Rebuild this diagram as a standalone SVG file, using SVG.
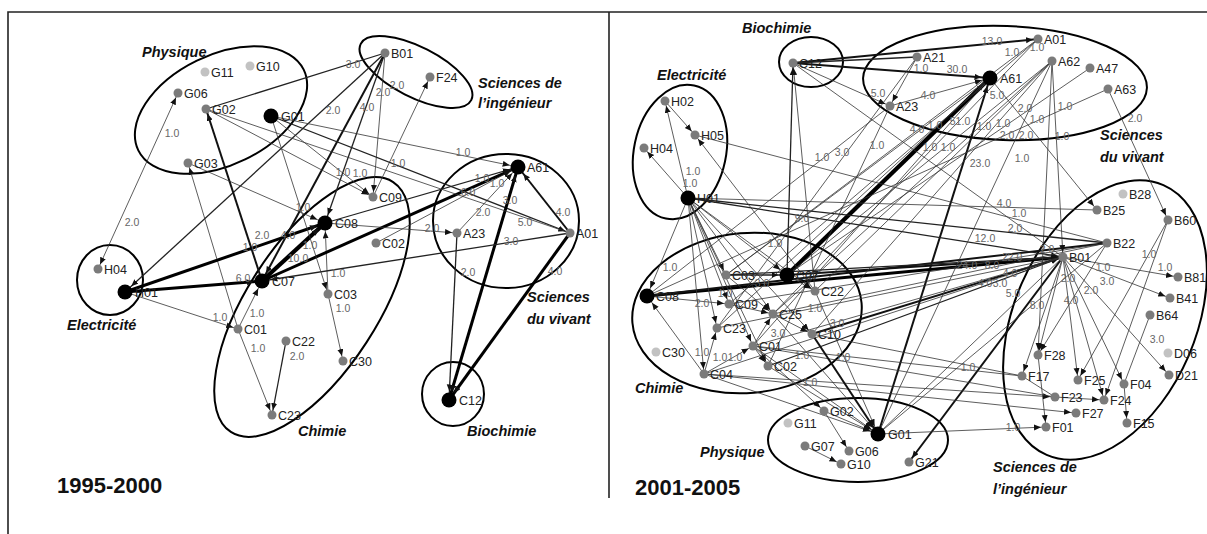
<svg xmlns="http://www.w3.org/2000/svg" width="1207" height="534" viewBox="0 0 1207 534">
<style>
.bg{fill:#fff}
.fr{stroke:#222;stroke-width:1.6;fill:none}
.cl{stroke:#000;stroke-width:2;fill:none}
.e{stroke:#333;stroke-width:0.8;fill:none}
.e2{stroke:#222;stroke-width:1.3}
.e3{stroke:#111;stroke-width:2}
.e4{stroke:#000;stroke-width:3}
.e5{stroke:#000;stroke-width:4.2}
.a{marker-end:url(#m)}
.ab{marker-end:url(#mb)}
.sa{marker-start:url(#m)}
.sab{marker-start:url(#mb)}
.d{fill:#7b7b7b}
.lt{fill:#c2c2c2}
.bk{fill:#000}
.n text{font-family:"Liberation Sans",Arial,sans-serif;font-size:12.5px;fill:#222}
.w{font-family:"Liberation Sans",Arial,sans-serif;font-size:10.5px;fill:#666;text-anchor:middle}
.g{font-family:"Liberation Sans",Arial,sans-serif;font-size:14.5px;font-weight:bold;font-style:italic;fill:#111}
.yr{font-family:"Liberation Sans",Arial,sans-serif;font-size:22px;font-weight:bold;fill:#111}
</style>
<defs>
<marker id="m" markerUnits="userSpaceOnUse" markerWidth="20" markerHeight="10" refX="12" refY="3" orient="auto-start-reverse"><path d="M0,0 L7,3 L0,6 z" fill="#111"/></marker>
<marker id="mb" markerUnits="userSpaceOnUse" markerWidth="24" markerHeight="10" refX="15.5" refY="3" orient="auto-start-reverse"><path d="M0,0 L7,3 L0,6 z" fill="#111"/></marker>
</defs>
<rect class="bg" x="0" y="0" width="1207" height="534"/>
<g id="frame">
<path class="fr" d="M8,534 V12 H1207"/>
<path class="fr" d="M609,12 V498"/>
</g>

<g id="clusters">
<ellipse class="cl" cx="221" cy="110" rx="92" ry="55" transform="rotate(-26 221 110)"/>
<ellipse class="cl" cx="416" cy="72" rx="62" ry="25" transform="rotate(27 416 72)"/>
<ellipse class="cl" cx="110" cy="280" rx="33" ry="35"/>
<ellipse class="cl" cx="312" cy="307" rx="149" ry="65" transform="rotate(-57 312 307)"/>
<ellipse class="cl" cx="506" cy="221" rx="73" ry="67"/>
<ellipse class="cl" cx="453" cy="394" rx="31" ry="32"/>
<ellipse class="cl" cx="811" cy="62" rx="32" ry="25"/>
<ellipse class="cl" cx="680" cy="152" rx="46" ry="68" transform="rotate(12 680 152)"/>
<ellipse class="cl" cx="1005" cy="83" rx="142" ry="57" transform="rotate(2 1005 83)"/>
<ellipse class="cl" cx="747" cy="313" rx="115" ry="80" transform="rotate(-5 747 313)"/>
<ellipse class="cl" cx="1105" cy="320" rx="147" ry="91" transform="rotate(-66.6 1105 320)"/>
<ellipse class="cl" cx="858" cy="440" rx="90" ry="42"/>
</g>

<g id="group-labels">
<text class="g" x="142" y="57">Physique</text>
<text class="g" x="478" y="88">Sciences  de</text>
<text class="g" x="478" y="108">l’ingénieur</text>
<text class="g" x="67" y="330">Electricité</text>
<text class="g" x="298" y="436">Chimie</text>
<text class="g" x="527" y="302">Sciences</text>
<text class="g" x="527" y="324">du vivant</text>
<text class="g" x="467" y="436">Biochimie</text>
<text class="yr" x="57" y="493">1995-2000</text>
<text class="g" x="742" y="33">Biochimie</text>
<text class="g" x="657" y="80">Electricité</text>
<text class="g" x="1100" y="140">Sciences</text>
<text class="g" x="1100" y="162">du vivant</text>
<text class="g" x="635" y="393">Chimie</text>
<text class="g" x="700" y="457">Physique</text>
<text class="yr" x="635" y="495">2001-2005</text>
<text class="g" x="993" y="472">Sciences  de</text>
<text class="g" x="993" y="494">l’ingénieur</text>
</g>

<g id="connectors">
<!-- left panel -->
<line x1="98" y1="269" x2="178" y2="93" class="e a sa"/>
<line x1="206" y1="109" x2="385" y2="53" class="e e2"/>
<line x1="385" y1="53" x2="125" y2="292" class="e e2 ab"/>
<line x1="385" y1="53" x2="373" y2="197" class="e a"/>
<line x1="385" y1="53" x2="325" y2="223" class="e e2 ab"/>
<line x1="385" y1="53" x2="262" y2="281" class="e e3 ab"/>
<line x1="373" y1="197" x2="430" y2="77" class="e a"/>
<line x1="271" y1="116" x2="518" y2="167" class="e ab"/>
<line x1="271" y1="116" x2="570" y2="233" class="e e2 a"/>
<line x1="271" y1="116" x2="373" y2="197" class="e a"/>
<line x1="206" y1="109" x2="373" y2="197" class="e a"/>
<line x1="262" y1="281" x2="206" y2="109" class="e e3 a"/>
<line x1="238" y1="329" x2="188" y2="163" class="e a"/>
<line x1="188" y1="163" x2="325" y2="223" class="e ab"/>
<line x1="125" y1="292" x2="325" y2="223" class="e e4 ab"/>
<line x1="125" y1="292" x2="262" y2="281" class="e e4 ab"/>
<line x1="125" y1="292" x2="238" y2="329" class="e a"/>
<line x1="238" y1="329" x2="262" y2="281" class="e ab"/>
<line x1="238" y1="329" x2="272" y2="415" class="e a"/>
<line x1="286" y1="341" x2="272" y2="415" class="e e2 a"/>
<line x1="328" y1="294" x2="343" y2="361" class="e a"/>
<line x1="328" y1="294" x2="325" y2="223" class="e ab"/>
<line x1="262" y1="281" x2="325" y2="223" class="e e5 ab"/>
<line x1="262" y1="281" x2="518" y2="167" class="e e4 ab"/>
<line x1="325" y1="223" x2="518" y2="167" class="e e2 ab"/>
<line x1="457" y1="233" x2="518" y2="167" class="e ab"/>
<line x1="449" y1="400" x2="518" y2="167" class="e e4 ab sab"/>
<line x1="570" y1="233" x2="518" y2="167" class="e e3 ab"/>
<line x1="570" y1="233" x2="449" y2="400" class="e e4 ab"/>
<line x1="457" y1="233" x2="449" y2="400" class="e e2 ab"/>
<line x1="325" y1="223" x2="457" y2="233" class="e a"/>
<line x1="570" y1="233" x2="262" y2="281" class="e e2 ab"/>
<line x1="271" y1="116" x2="328" y2="294" class="e a"/>
<line x1="206" y1="109" x2="570" y2="233" class="e"/>
<line x1="376" y1="243" x2="518" y2="167" class="e ab"/>
<!-- right panel -->
<line x1="787" y1="275" x2="990" y2="78" class="e e5 ab"/>
<line x1="878" y1="434" x2="990" y2="78" class="e e3 ab"/>
<line x1="793" y1="63" x2="990" y2="78" class="e e3 ab"/>
<line x1="793" y1="63" x2="1038" y2="39" class="e e3 a"/>
<line x1="647" y1="296" x2="1063" y2="257" class="e e4 a"/>
<line x1="647" y1="296" x2="1107" y2="243" class="e e3"/>
<line x1="787" y1="275" x2="1063" y2="257" class="e e3 a"/>
<line x1="812" y1="334" x2="1063" y2="257" class="e e3 a"/>
<line x1="726" y1="275" x2="1063" y2="257" class="e e2 a"/>
<line x1="688" y1="198" x2="1063" y2="257" class="e e2 a"/>
<line x1="688" y1="198" x2="1107" y2="243" class="e e2"/>
<line x1="1063" y1="257" x2="909" y2="462" class="e e3 a"/>
<line x1="768" y1="366" x2="1063" y2="257" class="e e2 a"/>
<line x1="787" y1="275" x2="793" y2="63" class="e e2 a"/>
<line x1="815" y1="291" x2="793" y2="63" class="e a"/>
<line x1="793" y1="63" x2="917" y2="57" class="e e2"/>
<line x1="917" y1="57" x2="890" y2="106" class="e a"/>
<line x1="793" y1="63" x2="890" y2="106" class="e a"/>
<line x1="890" y1="106" x2="990" y2="78" class="e ab"/>
<line x1="793" y1="63" x2="1063" y2="257" class="e"/>
<line x1="990" y1="78" x2="1097" y2="210" class="e a"/>
<line x1="1052" y1="61" x2="1063" y2="257" class="e a"/>
<line x1="1052" y1="61" x2="1038" y2="355" class="e a"/>
<line x1="1052" y1="61" x2="787" y2="275" class="e"/>
<line x1="1052" y1="61" x2="812" y2="334" class="e"/>
<line x1="1052" y1="61" x2="815" y2="291" class="e"/>
<line x1="1038" y1="39" x2="726" y2="275" class="e"/>
<line x1="1038" y1="39" x2="729" y2="304" class="e"/>
<line x1="1038" y1="39" x2="773" y2="314" class="e"/>
<line x1="1090" y1="68" x2="787" y2="275" class="e"/>
<line x1="1108" y1="89" x2="647" y2="296" class="e"/>
<line x1="1108" y1="89" x2="1168" y2="220" class="e a"/>
<line x1="647" y1="296" x2="890" y2="106" class="e"/>
<line x1="717" y1="328" x2="917" y2="57" class="e"/>
<line x1="768" y1="366" x2="890" y2="106" class="e"/>
<line x1="753" y1="346" x2="990" y2="78" class="e"/>
<line x1="773" y1="314" x2="1052" y2="61" class="e"/>
<line x1="726" y1="275" x2="990" y2="78" class="e"/>
<line x1="717" y1="328" x2="990" y2="78" class="e"/>
<line x1="878" y1="434" x2="1052" y2="61" class="e"/>
<line x1="688" y1="198" x2="665" y2="101" class="e a"/>
<line x1="688" y1="198" x2="644" y2="148" class="e a"/>
<line x1="665" y1="101" x2="695" y2="135" class="e a"/>
<line x1="815" y1="291" x2="695" y2="135" class="e a"/>
<line x1="695" y1="135" x2="1107" y2="243" class="e"/>
<line x1="688" y1="198" x2="1097" y2="210" class="e"/>
<line x1="688" y1="198" x2="647" y2="296" class="e ab"/>
<line x1="688" y1="198" x2="726" y2="275" class="e a"/>
<line x1="688" y1="198" x2="729" y2="304" class="e a"/>
<line x1="688" y1="198" x2="717" y2="328" class="e a"/>
<line x1="688" y1="198" x2="773" y2="314" class="e a"/>
<line x1="688" y1="198" x2="753" y2="346" class="e a"/>
<line x1="688" y1="198" x2="768" y2="366" class="e a"/>
<line x1="688" y1="198" x2="704" y2="374" class="e a"/>
<line x1="688" y1="198" x2="812" y2="334" class="e a"/>
<line x1="688" y1="198" x2="815" y2="291" class="e a"/>
<line x1="688" y1="198" x2="787" y2="275" class="e ab"/>
<line x1="1063" y1="257" x2="1038" y2="355" class="e a"/>
<line x1="1063" y1="257" x2="1022" y2="376" class="e a"/>
<line x1="1063" y1="257" x2="1078" y2="380" class="e a"/>
<line x1="1063" y1="257" x2="1124" y2="384" class="e a"/>
<line x1="1063" y1="257" x2="1169" y2="375" class="e a"/>
<line x1="1063" y1="257" x2="1178" y2="277" class="e a"/>
<line x1="1063" y1="257" x2="1170" y2="298" class="e a"/>
<line x1="1063" y1="257" x2="704" y2="374" class="e"/>
<line x1="1063" y1="257" x2="878" y2="434" class="e"/>
<line x1="1063" y1="257" x2="1104" y2="400" class="e a"/>
<line x1="1107" y1="243" x2="1038" y2="355" class="e a"/>
<line x1="1168" y1="220" x2="1078" y2="380" class="e a"/>
<line x1="1168" y1="220" x2="1104" y2="400" class="e a"/>
<line x1="1150" y1="315" x2="1124" y2="384" class="e"/>
<line x1="1124" y1="384" x2="1127" y2="423" class="e a"/>
<line x1="1055" y1="397" x2="1104" y2="400" class="e a"/>
<line x1="1022" y1="376" x2="1055" y2="397" class="e"/>
<line x1="1038" y1="355" x2="1046" y2="427" class="e a"/>
<line x1="704" y1="374" x2="1055" y2="397" class="e a"/>
<line x1="704" y1="374" x2="1076" y2="413" class="e a"/>
<line x1="753" y1="346" x2="1055" y2="397" class="e"/>
<line x1="753" y1="346" x2="1022" y2="376" class="e"/>
<line x1="812" y1="334" x2="1022" y2="376" class="e"/>
<line x1="878" y1="434" x2="1046" y2="427" class="e a"/>
<line x1="824" y1="411" x2="849" y2="451" class="e a"/>
<line x1="805" y1="446" x2="841" y2="464" class="e a"/>
<line x1="812" y1="334" x2="878" y2="434" class="e e3 ab"/>
<line x1="768" y1="366" x2="878" y2="434" class="e ab"/>
<line x1="753" y1="346" x2="878" y2="434" class="e ab"/>
<line x1="815" y1="291" x2="878" y2="434" class="e ab"/>
<line x1="704" y1="374" x2="878" y2="434" class="e ab"/>
<line x1="773" y1="314" x2="878" y2="434" class="e ab"/>
<line x1="824" y1="411" x2="878" y2="434" class="e ab"/>
<line x1="753" y1="346" x2="824" y2="411" class="e a"/>
<line x1="878" y1="434" x2="1107" y2="243" class="e"/>
<line x1="647" y1="296" x2="729" y2="304" class="e a"/>
<line x1="726" y1="275" x2="787" y2="275" class="e e2 ab"/>
<line x1="729" y1="304" x2="773" y2="314" class="e a"/>
<line x1="753" y1="346" x2="773" y2="314" class="e a"/>
<line x1="704" y1="374" x2="717" y2="328" class="e a"/>
<line x1="704" y1="374" x2="647" y2="296" class="e ab"/>
<line x1="704" y1="374" x2="753" y2="346" class="e a"/>
<line x1="753" y1="346" x2="768" y2="366" class="e a"/>
<line x1="773" y1="314" x2="812" y2="334" class="e a"/>
<line x1="787" y1="275" x2="815" y2="291" class="e a"/>
<line x1="726" y1="275" x2="773" y2="314" class="e a"/>
<line x1="729" y1="304" x2="1107" y2="243" class="e"/>
<line x1="717" y1="328" x2="1063" y2="257" class="e"/>
<line x1="773" y1="314" x2="1107" y2="243" class="e"/>
<line x1="753" y1="346" x2="1063" y2="257" class="e"/>
</g>

<g id="weights">
<text class="w" x="172" y="137">1.0</text>
<text class="w" x="132" y="226">2.0</text>
<text class="w" x="353" y="68">3.0</text>
<text class="w" x="333" y="114">2.0</text>
<text class="w" x="383" y="96">2.0</text>
<text class="w" x="367" y="111">4.0</text>
<text class="w" x="397" y="89">2.0</text>
<text class="w" x="463" y="156">1.0</text>
<text class="w" x="398" y="167">1.0</text>
<text class="w" x="343" y="176">1.0</text>
<text class="w" x="360" y="177">1.0</text>
<text class="w" x="262" y="239">2.0</text>
<text class="w" x="288" y="239">4.0</text>
<text class="w" x="243" y="282">6.0</text>
<text class="w" x="220" y="321">1.0</text>
<text class="w" x="257" y="317">1.0</text>
<text class="w" x="258" y="352">1.0</text>
<text class="w" x="297" y="360">2.0</text>
<text class="w" x="343" y="312">1.0</text>
<text class="w" x="298" y="262">10.0</text>
<text class="w" x="310" y="249">1.0</text>
<text class="w" x="303" y="211">1.0</text>
<text class="w" x="250" y="251">1.0</text>
<text class="w" x="468" y="196">6.0</text>
<text class="w" x="482" y="182">1.0</text>
<text class="w" x="483" y="216">2.0</text>
<text class="w" x="510" y="204">3.0</text>
<text class="w" x="525" y="226">5.0</text>
<text class="w" x="563" y="216">4.0</text>
<text class="w" x="555" y="275">4.0</text>
<text class="w" x="468" y="276">2.0</text>
<text class="w" x="432" y="232">2.0</text>
<text class="w" x="511" y="245">3.0</text>
<text class="w" x="338" y="277">1.0</text>
<text class="w" x="497" y="187">1.0</text>
<text class="w" x="992" y="45">13.0</text>
<text class="w" x="921" y="72">1.0</text>
<text class="w" x="957" y="73">30.0</text>
<text class="w" x="878" y="97">5.0</text>
<text class="w" x="928" y="99">4.0</text>
<text class="w" x="997" y="99">5.0</text>
<text class="w" x="960" y="125">51.0</text>
<text class="w" x="935" y="129">1.0</text>
<text class="w" x="917" y="133">4.0</text>
<text class="w" x="930" y="151">1.0</text>
<text class="w" x="948" y="151">1.0</text>
<text class="w" x="877" y="149">1.0</text>
<text class="w" x="822" y="161">1.0</text>
<text class="w" x="842" y="156">3.0</text>
<text class="w" x="980" y="167">23.0</text>
<text class="w" x="984" y="130">1.0</text>
<text class="w" x="1003" y="127">1.0</text>
<text class="w" x="1022" y="162">1.0</text>
<text class="w" x="1062" y="140">1.0</text>
<text class="w" x="1025" y="112">2.0</text>
<text class="w" x="1065" y="110">1.0</text>
<text class="w" x="1037" y="123">1.0</text>
<text class="w" x="1007" y="139">2.0</text>
<text class="w" x="1026" y="139">2.0</text>
<text class="w" x="1012" y="56">1.0</text>
<text class="w" x="1037" y="51">1.0</text>
<text class="w" x="1135" y="122">2.0</text>
<text class="w" x="1004" y="207">4.0</text>
<text class="w" x="1019" y="217">1.0</text>
<text class="w" x="1015" y="232">2.0</text>
<text class="w" x="802" y="222">9.0</text>
<text class="w" x="985" y="242">12.0</text>
<text class="w" x="967" y="269">24.0</text>
<text class="w" x="992" y="269">8.0</text>
<text class="w" x="1047" y="253">2.0</text>
<text class="w" x="1012" y="261">22.0</text>
<text class="w" x="985" y="287">4.0</text>
<text class="w" x="1000" y="287">3.0</text>
<text class="w" x="1149" y="258">1.0</text>
<text class="w" x="1165" y="271">1.0</text>
<text class="w" x="1103" y="271">1.0</text>
<text class="w" x="1068" y="282">2.0</text>
<text class="w" x="1071" y="304">4.0</text>
<text class="w" x="1091" y="294">2.0</text>
<text class="w" x="1107" y="285">3.0</text>
<text class="w" x="1037" y="309">8.0</text>
<text class="w" x="1013" y="297">5.0</text>
<text class="w" x="1010" y="277">4.0</text>
<text class="w" x="1157" y="343">3.0</text>
<text class="w" x="1013" y="431">1.0</text>
<text class="w" x="968" y="371">1.0</text>
<text class="w" x="670" y="271">1.0</text>
<text class="w" x="725" y="297">1.0</text>
<text class="w" x="702" y="307">2.0</text>
<text class="w" x="762" y="287">3.0</text>
<text class="w" x="702" y="356">1.0</text>
<text class="w" x="720" y="361">1.0</text>
<text class="w" x="735" y="361">1.0</text>
<text class="w" x="778" y="337">3.0</text>
<text class="w" x="802" y="359">1.0</text>
<text class="w" x="815" y="312">1.0</text>
<text class="w" x="837" y="327">3.0</text>
<text class="w" x="843" y="361">1.0</text>
<text class="w" x="810" y="386">1.0</text>
<text class="w" x="775" y="247">1.0</text>
<text class="w" x="693" y="175">1.0</text>
<text class="w" x="690" y="187">1.0</text>
</g>

<g id="nodes-left">
<g id="l-G11" class="n"><circle cx="205" cy="72" r="4.5" class="lt"/><text x="211" y="76.5">G11</text></g>
<g id="l-G10" class="n"><circle cx="250" cy="66" r="4.5" class="lt"/><text x="256" y="70.5">G10</text></g>
<g id="l-G06" class="n"><circle cx="178" cy="93" r="4.5" class="d"/><text x="184" y="97.5">G06</text></g>
<g id="l-G02" class="n"><circle cx="206" cy="109" r="4.5" class="d"/><text x="212" y="113.5">G02</text></g>
<g id="l-G01" class="n"><circle cx="271" cy="116" r="7.5" class="bk"/><text x="281" y="120.5">G01</text></g>
<g id="l-G03" class="n"><circle cx="188" cy="163" r="4.5" class="d"/><text x="194" y="167.5">G03</text></g>
<g id="l-B01" class="n"><circle cx="385" cy="53" r="4.5" class="d"/><text x="391" y="57.5">B01</text></g>
<g id="l-F24" class="n"><circle cx="430" cy="77" r="4.5" class="d"/><text x="436" y="81.5">F24</text></g>
<g id="l-C09" class="n"><circle cx="373" cy="197" r="4.5" class="d"/><text x="379" y="201.5">C09</text></g>
<g id="l-C08" class="n"><circle cx="325" cy="223" r="7.5" class="bk"/><text x="335" y="227.5">C08</text></g>
<g id="l-C02" class="n"><circle cx="376" cy="243" r="4.5" class="d"/><text x="382" y="247.5">C02</text></g>
<g id="l-A61" class="n"><circle cx="518" cy="167" r="7.5" class="bk"/><text x="527" y="171.5">A61</text></g>
<g id="l-A23" class="n"><circle cx="457" cy="233" r="4.5" class="d"/><text x="463" y="237.5">A23</text></g>
<g id="l-A01" class="n"><circle cx="570" cy="233" r="4.5" class="d"/><text x="576" y="237.5">A01</text></g>
<g id="l-H04" class="n"><circle cx="98" cy="269" r="4.5" class="d"/><text x="104" y="273.5">H04</text></g>
<g id="l-H01" class="n"><circle cx="125" cy="292" r="7.5" class="bk"/><text x="135" y="296.5">H01</text></g>
<g id="l-C07" class="n"><circle cx="262" cy="281" r="7.5" class="bk"/><text x="272" y="285.5">C07</text></g>
<g id="l-C03" class="n"><circle cx="328" cy="294" r="4.5" class="d"/><text x="334" y="298.5">C03</text></g>
<g id="l-C01" class="n"><circle cx="238" cy="329" r="4.5" class="d"/><text x="244" y="333.5">C01</text></g>
<g id="l-C22" class="n"><circle cx="286" cy="341" r="4.5" class="d"/><text x="292" y="345.5">C22</text></g>
<g id="l-C30" class="n"><circle cx="343" cy="361" r="4.5" class="d"/><text x="349" y="365.5">C30</text></g>
<g id="l-C23" class="n"><circle cx="272" cy="415" r="4.5" class="d"/><text x="278" y="419.5">C23</text></g>
<g id="l-C12" class="n"><circle cx="449" cy="400" r="7.5" class="bk"/><text x="459" y="404.5">C12</text></g>
</g>

<g id="nodes-right">
<g id="r-C12" class="n"><circle cx="793" cy="63" r="4.5" class="d"/><text x="799" y="67.5">C12</text></g>
<g id="r-A21" class="n"><circle cx="917" cy="57" r="4.5" class="d"/><text x="923" y="61.5">A21</text></g>
<g id="r-A23" class="n"><circle cx="890" cy="106" r="4.5" class="d"/><text x="896" y="110.5">A23</text></g>
<g id="r-A61" class="n"><circle cx="990" cy="78" r="7.5" class="bk"/><text x="1000" y="82.5">A61</text></g>
<g id="r-A01" class="n"><circle cx="1038" cy="39" r="4.5" class="d"/><text x="1044" y="43.5">A01</text></g>
<g id="r-A62" class="n"><circle cx="1052" cy="61" r="4.5" class="d"/><text x="1058" y="65.5">A62</text></g>
<g id="r-A47" class="n"><circle cx="1090" cy="68" r="4.5" class="d"/><text x="1096" y="72.5">A47</text></g>
<g id="r-A63" class="n"><circle cx="1108" cy="89" r="4.5" class="d"/><text x="1114" y="93.5">A63</text></g>
<g id="r-H02" class="n"><circle cx="665" cy="101" r="4.5" class="d"/><text x="671" y="105.5">H02</text></g>
<g id="r-H05" class="n"><circle cx="695" cy="135" r="4.5" class="d"/><text x="701" y="139.5">H05</text></g>
<g id="r-H04" class="n"><circle cx="644" cy="148" r="4.5" class="d"/><text x="650" y="152.5">H04</text></g>
<g id="r-H01" class="n"><circle cx="688" cy="198" r="7.5" class="bk"/><text x="697" y="202.5">H01</text></g>
<g id="r-B28" class="n"><circle cx="1123" cy="194" r="4.5" class="lt"/><text x="1129" y="198.5">B28</text></g>
<g id="r-B25" class="n"><circle cx="1097" cy="210" r="4.5" class="d"/><text x="1103" y="214.5">B25</text></g>
<g id="r-B60" class="n"><circle cx="1168" cy="220" r="4.5" class="d"/><text x="1174" y="224.5">B60</text></g>
<g id="r-B22" class="n"><circle cx="1107" cy="243" r="4.5" class="d"/><text x="1113" y="247.5">B22</text></g>
<g id="r-B01" class="n"><circle cx="1063" cy="257" r="4.5" class="d"/><text x="1069" y="261.5">B01</text></g>
<g id="r-B81" class="n"><circle cx="1178" cy="277" r="4.5" class="d"/><text x="1184" y="281.5">B81</text></g>
<g id="r-B41" class="n"><circle cx="1170" cy="298" r="4.5" class="d"/><text x="1176" y="302.5">B41</text></g>
<g id="r-B64" class="n"><circle cx="1150" cy="315" r="4.5" class="d"/><text x="1156" y="319.5">B64</text></g>
<g id="r-D06" class="n"><circle cx="1168" cy="353" r="4.5" class="lt"/><text x="1174" y="357.5">D06</text></g>
<g id="r-D21" class="n"><circle cx="1169" cy="375" r="4.5" class="d"/><text x="1175" y="379.5">D21</text></g>
<g id="r-F28" class="n"><circle cx="1038" cy="355" r="4.5" class="d"/><text x="1044" y="359.5">F28</text></g>
<g id="r-F17" class="n"><circle cx="1022" cy="376" r="4.5" class="d"/><text x="1028" y="380.5">F17</text></g>
<g id="r-F25" class="n"><circle cx="1078" cy="380" r="4.5" class="d"/><text x="1084" y="384.5">F25</text></g>
<g id="r-F04" class="n"><circle cx="1124" cy="384" r="4.5" class="d"/><text x="1130" y="388.5">F04</text></g>
<g id="r-F23" class="n"><circle cx="1055" cy="397" r="4.5" class="d"/><text x="1061" y="401.5">F23</text></g>
<g id="r-F24" class="n"><circle cx="1104" cy="400" r="4.5" class="d"/><text x="1110" y="404.5">F24</text></g>
<g id="r-F27" class="n"><circle cx="1076" cy="413" r="4.5" class="d"/><text x="1082" y="417.5">F27</text></g>
<g id="r-F01" class="n"><circle cx="1046" cy="427" r="4.5" class="d"/><text x="1052" y="431.5">F01</text></g>
<g id="r-F15" class="n"><circle cx="1127" cy="423" r="4.5" class="d"/><text x="1133" y="427.5">F15</text></g>
<g id="r-C08" class="n"><circle cx="647" cy="296" r="7.5" class="bk"/><text x="656" y="300.5">C08</text></g>
<g id="r-C03" class="n"><circle cx="726" cy="275" r="4.5" class="d"/><text x="732" y="279.5">C03</text></g>
<g id="r-C07" class="n"><circle cx="787" cy="275" r="7.5" class="bk"/><text x="796" y="279.5">C07</text></g>
<g id="r-C09" class="n"><circle cx="729" cy="304" r="4.5" class="d"/><text x="735" y="308.5">C09</text></g>
<g id="r-C25" class="n"><circle cx="773" cy="314" r="4.5" class="d"/><text x="779" y="318.5">C25</text></g>
<g id="r-C23" class="n"><circle cx="717" cy="328" r="4.5" class="d"/><text x="723" y="332.5">C23</text></g>
<g id="r-C01" class="n"><circle cx="753" cy="346" r="4.5" class="d"/><text x="759" y="350.5">C01</text></g>
<g id="r-C02" class="n"><circle cx="768" cy="366" r="4.5" class="d"/><text x="774" y="370.5">C02</text></g>
<g id="r-C04" class="n"><circle cx="704" cy="374" r="4.5" class="d"/><text x="710" y="378.5">C04</text></g>
<g id="r-C30" class="n"><circle cx="656" cy="352" r="4.5" class="lt"/><text x="662" y="356.5">C30</text></g>
<g id="r-C22" class="n"><circle cx="815" cy="291" r="4.5" class="d"/><text x="821" y="295.5">C22</text></g>
<g id="r-C10" class="n"><circle cx="812" cy="334" r="4.5" class="d"/><text x="818" y="338.5">C10</text></g>
<g id="r-G11" class="n"><circle cx="788" cy="423" r="4.5" class="lt"/><text x="794" y="427.5">G11</text></g>
<g id="r-G07" class="n"><circle cx="805" cy="446" r="4.5" class="d"/><text x="811" y="450.5">G07</text></g>
<g id="r-G02" class="n"><circle cx="824" cy="411" r="4.5" class="d"/><text x="830" y="415.5">G02</text></g>
<g id="r-G06" class="n"><circle cx="849" cy="451" r="4.5" class="d"/><text x="855" y="455.5">G06</text></g>
<g id="r-G10" class="n"><circle cx="841" cy="464" r="4.5" class="d"/><text x="847" y="468.5">G10</text></g>
<g id="r-G01" class="n"><circle cx="878" cy="434" r="7.5" class="bk"/><text x="888" y="438.5">G01</text></g>
<g id="r-G21" class="n"><circle cx="909" cy="462" r="4.5" class="d"/><text x="915" y="466.5">G21</text></g>
</g>
</svg>
